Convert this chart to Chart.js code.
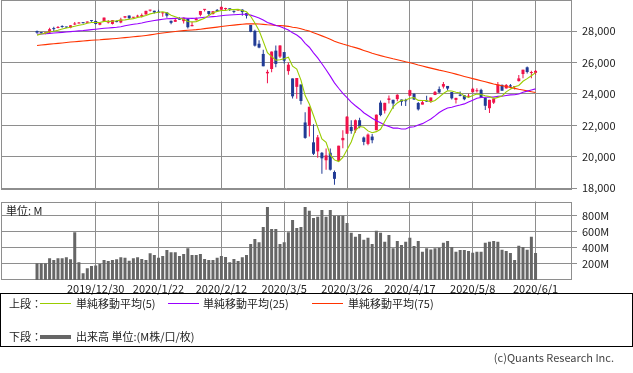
<!DOCTYPE html>
<html><head><meta charset="utf-8">
<script src="https://cdn.jsdelivr.net/npm/chart.js@4.4.1/dist/chart.umd.min.js"></script>
<style>
html,body{margin:0;padding:0;background:#fff;width:633px;height:373px;overflow:hidden;font-family:'Noto Sans CJK JP',sans-serif;}
canvas{position:absolute;left:0;}
#c1{top:0;}
#c2{top:195px;}
.t{position:absolute;font-size:11px;color:#222;white-space:nowrap;line-height:11px;}
#legend{position:absolute;left:0;top:293px;width:631px;height:52px;border:1px solid #000;}
.ln{position:absolute;height:1px;}
</style></head><body>
<canvas id="c1" width="633" height="197"></canvas>
<canvas id="c2" width="633" height="100"></canvas>
<div class="t" style="left:6px;top:205px;">単位: M</div>
<div id="legend">
  <div class="t" style="left:8px;top:4px;">上段：</div>
  <div class="ln" style="left:39px;width:31px;top:9px;background:#99cc00;"></div>
  <div class="t" style="left:75px;top:4px;">単純移動平均(5)</div>
  <div class="ln" style="left:167px;width:31px;top:9px;background:#9900ff;"></div>
  <div class="t" style="left:202px;top:4px;">単純移動平均(25)</div>
  <div class="ln" style="left:311px;width:31px;top:9px;background:#ff3300;"></div>
  <div class="t" style="left:347px;top:4px;">単純移動平均(75)</div>
  <div class="t" style="left:8px;top:37px;">下段：</div>
  <div class="ln" style="left:39px;width:31px;top:41px;height:4px;background:#666;"></div>
  <div class="t" style="left:75px;top:37px;">出来高 単位:(M株/口/枚)</div>
</div>
<div class="t" style="right:19px;top:352px;color:#444;">(c)Quants Research Inc.</div>
<script>
const dates = ['2019/12/9','2019/12/10','2019/12/11','2019/12/12','2019/12/13','2019/12/16','2019/12/17','2019/12/18','2019/12/19','2019/12/20','2019/12/23','2019/12/24','2019/12/26','2019/12/27','2019/12/30','2019/12/31',
'2020/1/2','2020/1/3','2020/1/6','2020/1/7','2020/1/8','2020/1/9','2020/1/10','2020/1/13','2020/1/14','2020/1/15','2020/1/16','2020/1/17','2020/1/21','2020/1/22','2020/1/23','2020/1/24','2020/1/27','2020/1/28','2020/1/29','2020/1/30','2020/1/31',
'2020/2/3','2020/2/4','2020/2/5','2020/2/6','2020/2/7','2020/2/10','2020/2/11','2020/2/12','2020/2/13','2020/2/14','2020/2/18','2020/2/19','2020/2/20','2020/2/21','2020/2/24','2020/2/25','2020/2/26','2020/2/27','2020/2/28',
'2020/3/2','2020/3/3','2020/3/4','2020/3/5','2020/3/6','2020/3/9','2020/3/10','2020/3/11','2020/3/12','2020/3/13','2020/3/16','2020/3/17','2020/3/18','2020/3/19','2020/3/20','2020/3/23','2020/3/24','2020/3/25','2020/3/26','2020/3/27','2020/3/30','2020/3/31',
'2020/4/1','2020/4/2','2020/4/3','2020/4/6','2020/4/7','2020/4/8','2020/4/9','2020/4/13','2020/4/14','2020/4/15','2020/4/16','2020/4/17','2020/4/20','2020/4/21','2020/4/22','2020/4/23','2020/4/24','2020/4/27','2020/4/28','2020/4/29','2020/4/30',
'2020/5/1','2020/5/4','2020/5/5','2020/5/6','2020/5/7','2020/5/8','2020/5/11','2020/5/12','2020/5/13','2020/5/14','2020/5/15','2020/5/18','2020/5/19','2020/5/20','2020/5/21','2020/5/22','2020/5/26','2020/5/27','2020/5/28','2020/5/29',
'2020/6/1'];

const opens = [28015,27900,27867,27920,28161,28206,28270,28285,28229,28429,
28491,28572,28539,28676,28654,28414,28638,28553,28466,28640,
28556,28869,29000,28859,28929,28935,29072,29313,29304,29236,
29139,29195,28663,28600,28818,28640,28813,28319,28696,29048,
29363,29286,29094,29359,29371,29418,29440,29279,29322,29375,
29153,28402,28023,27202,26552,25317,25591,26762,26383,26671,
25457,24992,24454,24604,22184,21974,20918,20342,20250,19776,
20254,19029,19722,21050,21468,21899,21678,22328,21227,20819,
21285,21693,23450,22939,23620,23629,23672,23643,23579,23890,
24010,23423,23322,23529,23539,23932,24311,24470,24512,24121,
23622,23957,23920,23826,24110,24175,24260,23753,23093,23446,
24073,24580,24354,24551,24441,24820,25270,25700,25339,25343];

const highs = [28050,27949,27925,28224,28290,28337,28376,28291,28377,28582,
28582,28576,28622,28701,28664,28547,28873,28718,28708,28686,
28866,28957,29009,28908,29054,29128,29300,29374,29304,29373,
29227,29218,28679,28809,28891,28881,28813,28593,28873,29291,
29408,29286,29276,29415,29568,29501,29441,29327,29406,29396,
29153,28402,28099,27422,26812,25541,26706,27084,27103,26671,
25994,24992,25020,24604,22837,23186,22075,21391,20300,20521,
20532,19122,20705,21682,22595,22327,22378,22480,21285,21477,
21447,22697,23580,23434,23900,23629,23987,23643,23701,24264,
24042,23486,23602,23887,23775,24193,24484,24765,24512,24121,
23754,24163,23941,24022,24392,24367,24335,23775,23630,23692,
24766,24605,24629,24641,24510,25213,25548,25758,25473,25523];

const lows = [27840,27842,27801,27842,28004,28182,28225,28209,28196,28402,
28491,28491,28535,28608,28429,28377,28627,28500,28421,28566,
28502,28833,28783,28820,28894,28878,29054,29255,29133,29186,
28928,28857,28440,28600,28734,28489,28170,28319,28696,28958,
29253,28993,29070,29248,29371,29326,29287,29146,29312,28991,
28816,27929,27021,26916,25766,24681,25391,25706,26286,25943,
25226,23707,23690,23328,21154,21285,20116,19941,18917,19178,
19122,18214,19722,20539,21468,21470,21522,21811,20735,20736,
20863,21693,22584,22754,23400,23055,23538,23247,23234,23890,
23617,22941,23322,23500,23448,23932,24061,24342,24215,23645,
23399,23860,23608,23781,24110,24095,23764,22973,22790,23355,
24073,24200,24354,24359,24289,24800,25000,25313,25001,25231];

const closes = [27909,27881,27911,28132,28135,28235,28267,28239,28376,28455,
28551,28515,28621,28645,28462,28538,28868,28634,28703,28583,
28745,28957,28824,28907,28940,29030,29298,29348,29196,29186,
29160,28990,28536,28723,28734,28859,28256,28400,28808,29291,
29380,29103,29276,29277,29551,29424,29398,29232,29348,29219,
28992,27961,27081,26957,25766,25409,26703,25917,27091,26121,
25865,23851,25018,23553,21200,23186,20189,21237,19899,20087,
19174,18592,20704,21200,22552,21637,22327,21917,20944,21413,
21053,22680,22654,23434,23719,23390,23950,23505,23538,24242,
23650,23019,23475,23515,23775,24134,24101,24634,24346,23724,
23750,23883,23664,23875,24331,24221,23764,23248,23625,23685,
24597,24207,24576,24474,24465,24995,25548,25401,25383,25475];

// closes before the first bar (used only for the moving averages)
const priorCloses = [25629,25898,25778,26036,26363,26403,
26118,26356,26728,26797,26835,26909,27137,27182,27220,27076,27111,27147,27095,26935,26950,26808,26970,26891,26820,26917,
26573,26079,26202,26573,26478,26165,26347,26497,26817,26787,27025,27001,27026,26770,26828,26788,26834,26806,26958,27091,27071,27186,27046,
27347,27462,27493,27492,27675,27681,27691,27691,27784,27782,28005,28036,27934,27821,27766,27876,28066,28122,28164,28051,
27783,27503,27650,27677,28015];

const volumes = [207,207,207,270,249,270,270,282,257,593,
220,83,145,174,182,199,249,236,249,257,
282,278,241,270,282,261,249,332,311,278,
299,373,344,344,299,324,394,311,311,324,
261,249,249,278,299,286,220,261,236,282,
311,448,510,469,659,908,634,634,448,469,
593,746,647,659,908,862,771,788,871,788,
871,800,800,800,709,589,539,572,502,527,
448,614,589,477,560,394,485,435,477,527,
423,485,352,394,381,394,402,464,485,410,
352,373,373,361,340,352,352,464,477,485,
477,377,361,336,249,427,410,377,539,336];

const priceTicks = [18000,20000,22000,24000,26000,28000];
const volumeTicks = [200,400,600,800];
const dateTickIdx = [14,29,44,59,74,89,104,119];

const FONT = "'Noto Sans CJK JP', sans-serif";
const UP = '#f0124a', DOWN = '#213b95', GRID = '#8e8e8e';
const MA5C = '#99cc00', MA25C = '#9900ff', MA75C = '#ff3300';
const XMIN = -8.6, XMAX = 127.7;

const candleColors = closes.map((c, i) => c >= opens[i] ? UP : DOWN);
function sma(period) {
  const all = priorCloses.concat(closes);
  const off = priorCloses.length;
  return closes.map((_, i) => {
    let s = 0;
    for (let k = 0; k < period; k++) s += all[off + i - k];
    return {x: i, y: s / period};
  });
}

const framePlugin = {
  id: 'frame',
  beforeDatasetsDraw(chart) {
    const {ctx, chartArea: a} = chart;
    ctx.save();
    ctx.strokeStyle = GRID;
    ctx.lineWidth = 1;
    const l = Math.round(a.left) + 0.5, t = Math.round(a.top) + 0.5;
    const r = Math.round(a.right) - 0.5, b = Math.round(a.bottom) - 0.5;
    ctx.strokeRect(l, t, r - l, b - t);
    ctx.restore();
  }
};

const xBase = (showLabels, h) => ({
  type: 'linear', min: XMIN, max: XMAX, offset: false,
  afterBuildTicks: s => { s.ticks = dateTickIdx.map(v => ({value: v})); },
  afterFit: s => { s.height = h; s.paddingLeft = 0; s.paddingRight = 0; },
  grid: {color: GRID, drawTicks: false, offset: false},
  border: {display: false},
  ticks: {display: showLabels, autoSkip: false, maxRotation: 0, padding: 2,
    color: '#222', font: {family: FONT, size: 11}, callback: v => dates[v]}
});

new Chart(document.getElementById('c1'), {
  type: 'bar',
  data: {datasets: [
    {type: 'line', data: sma(5), borderColor: MA5C, borderWidth: 1.1, pointRadius: 0, order: 0},
    {type: 'line', data: sma(25), borderColor: MA25C, borderWidth: 1.1, pointRadius: 0, order: 0},
    {type: 'line', data: sma(75), borderColor: MA75C, borderWidth: 1.1, pointRadius: 0, order: 0},
    {type: 'bar', data: opens.map((o, i) => ({x: i, y: [o, closes[i]]})), backgroundColor: candleColors,
      barThickness: 3, minBarLength: 1, grouped: false, inflateAmount: 0, order: 1},
    {type: 'bar', data: lows.map((l, i) => ({x: i, y: [l, highs[i]]})), backgroundColor: candleColors,
      barThickness: 1, grouped: false, inflateAmount: 0, order: 2}
  ]},
  options: {
    responsive: false, animation: false, devicePixelRatio: 1,
    layout: {padding: {left: 1, right: 0, top: 0, bottom: 0}},
    plugins: {legend: {display: false}, tooltip: {enabled: false}},
    scales: {
      x: xBase(false, 7),
      y: {position: 'right', min: 17880, max: 29990,
        afterBuildTicks: s => { s.ticks = priceTicks.map(v => ({value: v})); },
        afterFit: s => { s.width = 61; s.paddingTop = 0; s.paddingBottom = 0; },
        grid: {color: GRID, tickLength: 5},
        border: {display: false},
        ticks: {padding: 5, color: '#222', font: {family: FONT, size: 11},
          callback: v => v.toLocaleString('en-US')}}
    }
  },
  plugins: [framePlugin]
});

new Chart(document.getElementById('c2'), {
  type: 'bar',
  data: {datasets: [
    {data: volumes.map((v, i) => ({x: i, y: v})), backgroundColor: '#666666',
      barThickness: 3, inflateAmount: 0, grouped: false}
  ]},
  options: {
    responsive: false, animation: false, devicePixelRatio: 1,
    layout: {padding: {left: 1, right: 0, top: 6.5, bottom: 0}},
    plugins: {legend: {display: false}, tooltip: {enabled: false}},
    scales: {
      x: xBase(true, 15),
      y: {position: 'right', min: 0, max: 977,
        afterBuildTicks: s => { s.ticks = volumeTicks.map(v => ({value: v})); },
        afterFit: s => { s.width = 61; s.paddingTop = 0; s.paddingBottom = 0; },
        grid: {color: GRID, tickLength: 5},
        border: {display: false},
        ticks: {padding: 5, color: '#222', font: {family: FONT, size: 11},
          callback: v => v + 'M'}}
    }
  },
  plugins: [framePlugin]
});
</script>
</body></html>
